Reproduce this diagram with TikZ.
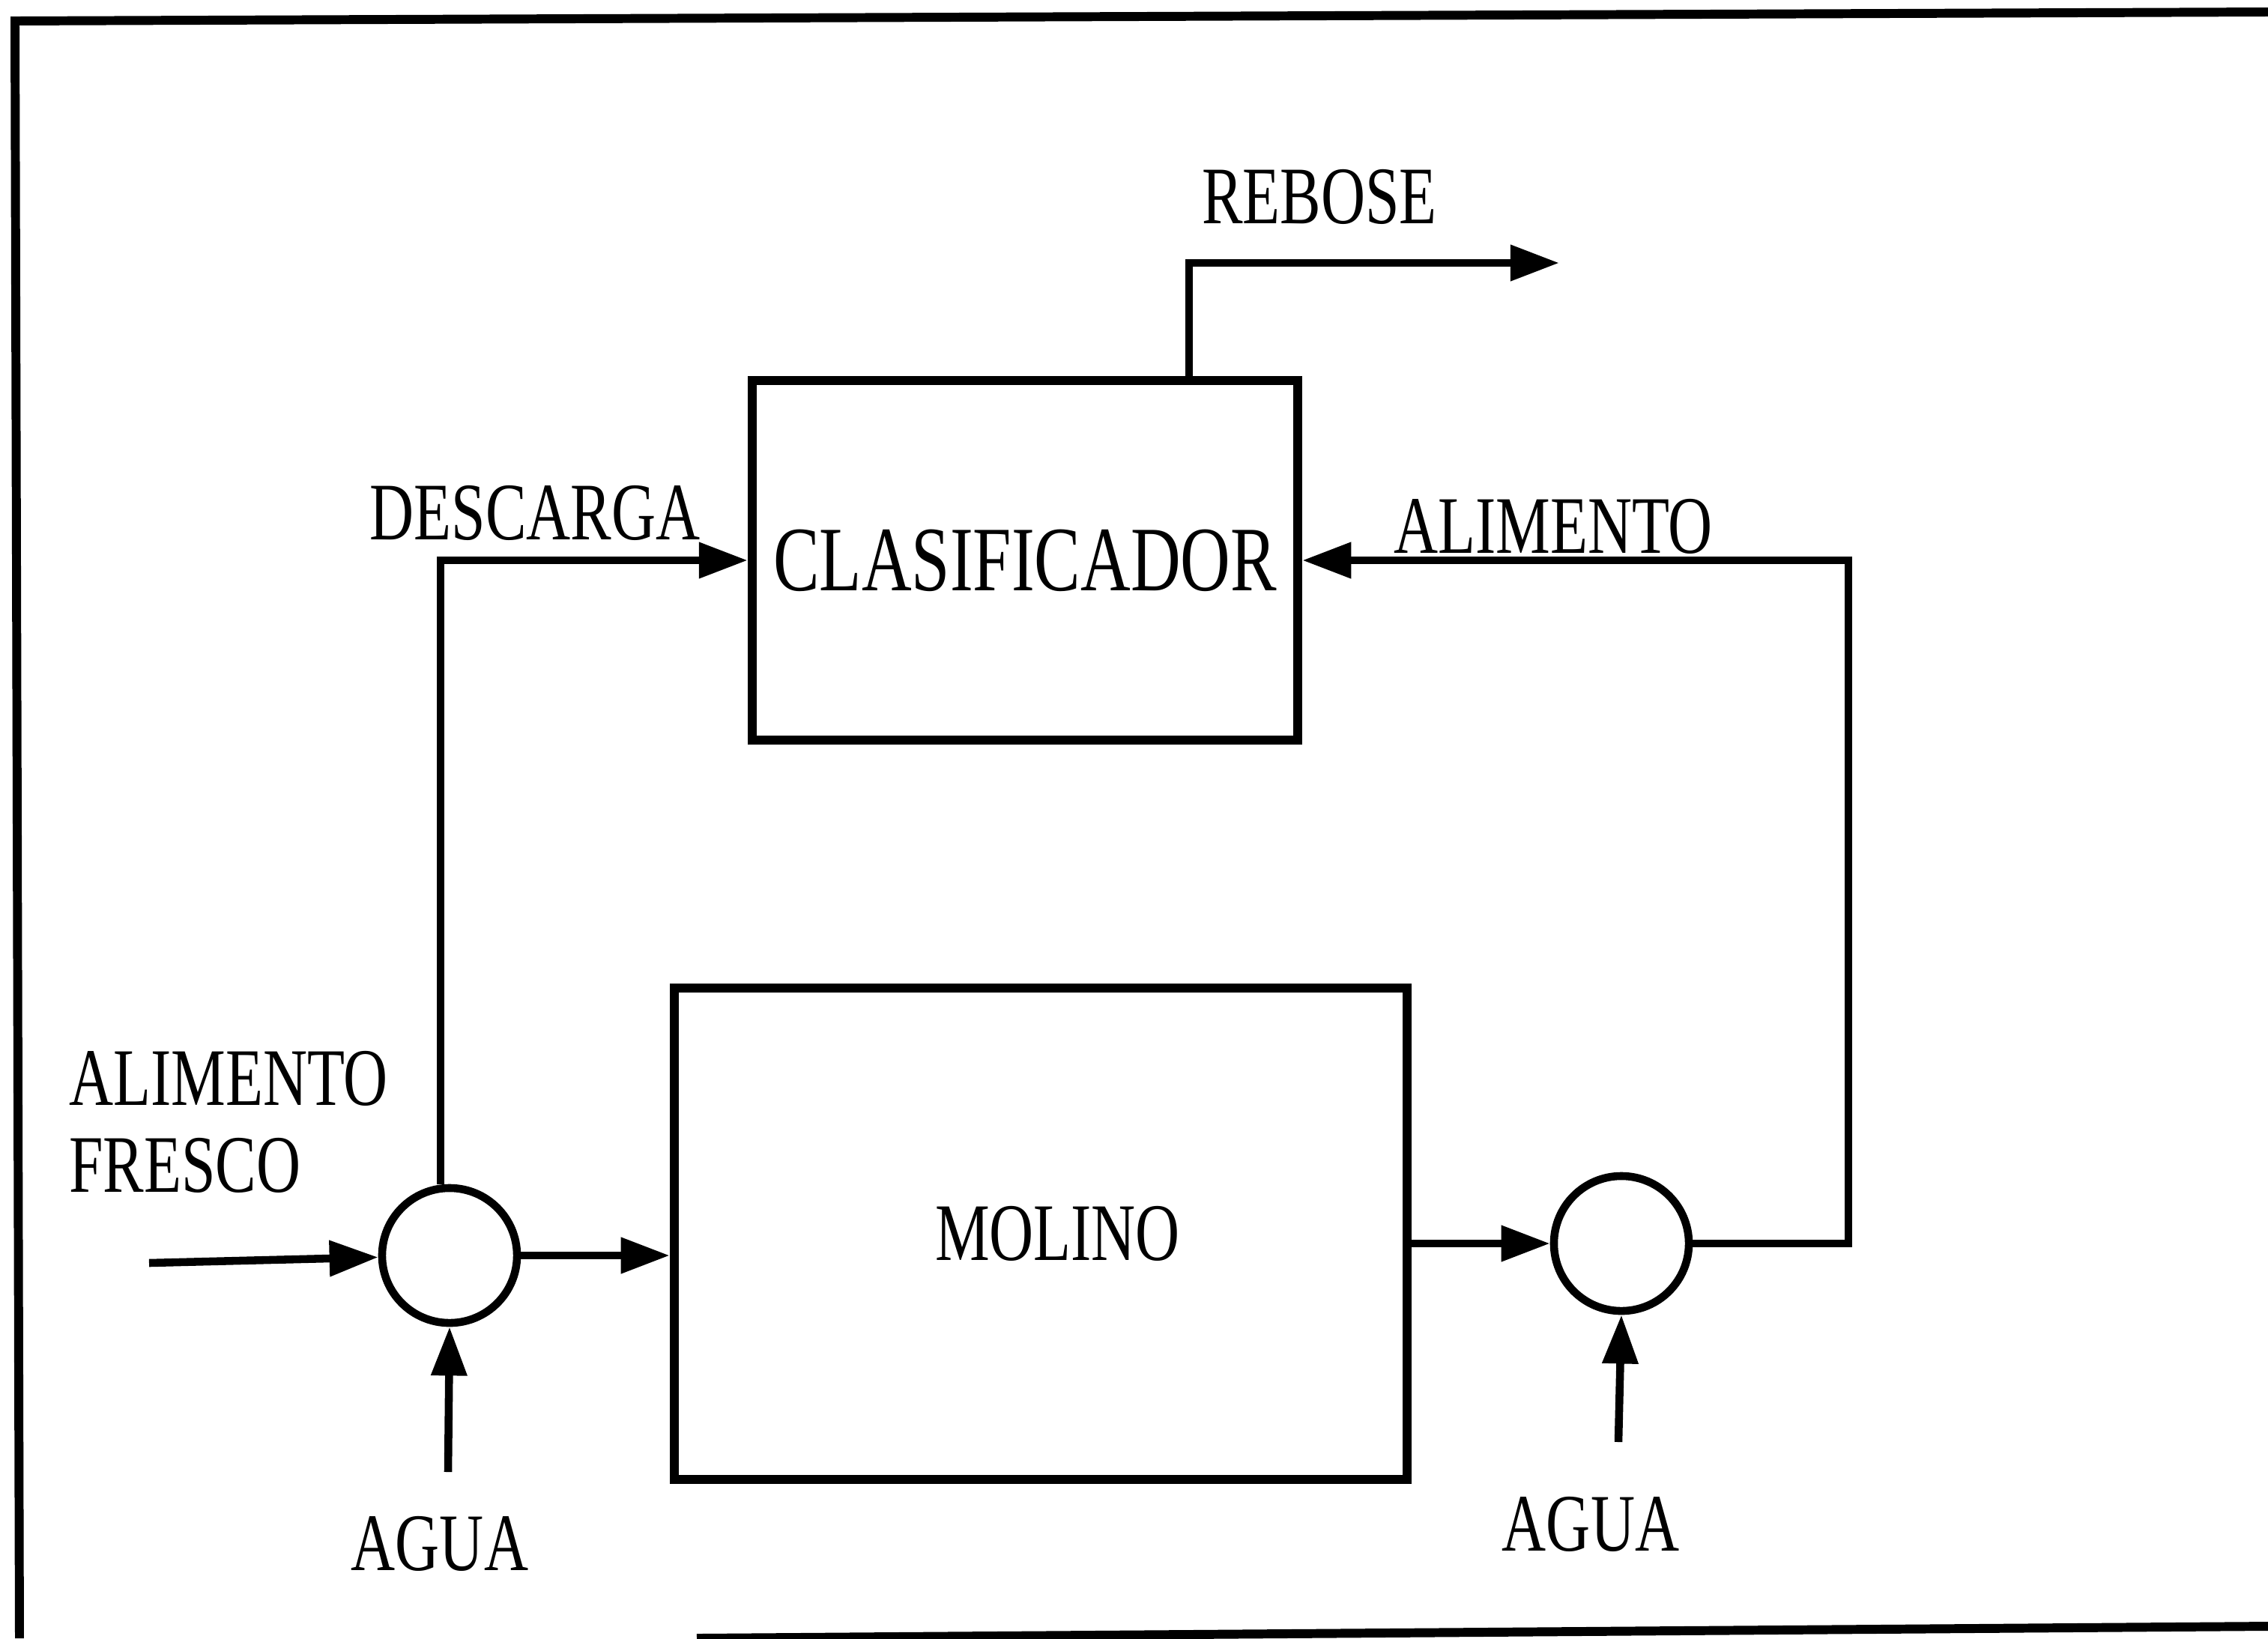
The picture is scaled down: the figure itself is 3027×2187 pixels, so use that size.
\documentclass[tikz,border=0pt]{standalone}
\usepackage{fontspec}
\setmainfont{Liberation Serif}[FakeStretch=0.75]
\usetikzlibrary{arrows.meta}
\begin{document}
\begin{tikzpicture}[x=0.01cm, y=-0.01cm, line width=3pt,
  lbl/.style={inner sep=0pt, font=\fontsize{31}{33}\selectfont},
  unit/.style={draw, line width=3.4pt, inner sep=0pt},
  mixer/.style={draw, circle, minimum size=1.8cm, inner sep=0pt},
  flow/.style={-{Triangle[length=6.5mm,width=4.6mm]}}]
  \useasboundingbox (0,0) rectangle (3027,2187);
  % marco
  \draw[line width=3.4pt] (26,2187) -- (20,28) -- (3027,16);
  \draw[line width=3.4pt] (930,2187) -- (3027,2171);
  % equipos
  \node[unit, minimum width=7.28cm, minimum height=4.79cm, font=\fontsize{35}{38}\selectfont] (clasif) at (1368,748) {CLASIFICADOR};
  \node[unit, minimum width=9.78cm, minimum height=6.56cm, font=\fontsize{31}{33}\selectfont] (molino) at (1389,1647) {\hspace*{0.45cm}\raisebox{-0.3cm}{MOLINO}};
  \node[mixer] (mixL) at (600,1676) {};
  \node[mixer] (mixR) at (2164,1660) {};
  % extremos libres
  \coordinate (feed) at (199,1686);
  \coordinate (aguaL) at (598,1965);
  \coordinate (aguaR) at (2160,1925);
  \coordinate (turn) at (2467,1660);
  \coordinate (rebx) at (1587,351);
  \coordinate (rebout) at (2081,351);
  % corrientes
  \draw[flow] (feed) -- (mixL);
  \draw[flow] (mixL.east) -- (mixL.east -| molino.west);
  \draw[flow] (aguaL) -- (mixL.south);
  \draw[flow] ([xshift=-0.12cm]mixL.north) |- (clasif.west);
  \draw[flow] (molino.east |- mixR) -- (mixR.west);
  \draw[flow] (aguaR) -- (mixR.south);
  \draw[flow] (mixR.east) -- (turn) |- (clasif.east);
  \draw[flow] (clasif.north -| rebx) -- (rebx) -- (rebout);
  % textos
  \node[lbl] (trebose) at (1761,263) {REBOSE};
  \node[lbl] (tdescarga) at (714,685) {DESCARGA};
  \node[lbl] (talim) at (2073,703) {ALIMENTO};
  \node[lbl, align=left, anchor=west] (tfresco) at (87,1498) {ALIMENTO\\FRESCO};
  \node[lbl] (taguaL) at (587,2061) {AGUA};
  \node[lbl] (taguaR) at (2123,2035) {AGUA};
\end{tikzpicture}
\end{document}
